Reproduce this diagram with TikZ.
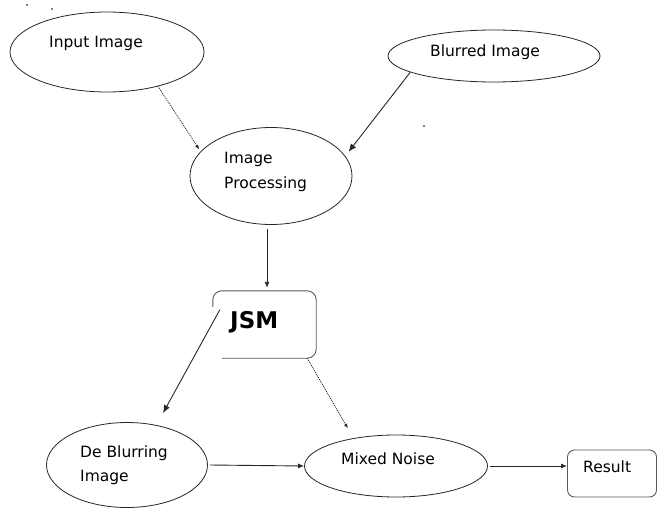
\documentclass[tikz,border=0pt]{standalone}
\usepackage{fontspec}
\setmainfont{DejaVu Sans}
\usetikzlibrary{shapes.geometric,arrows.meta}
\tikzset{
  oval/.style={ellipse,draw=black!85,line width=0.8pt,inner sep=0pt},
  lbl/.style={anchor=base west,inner sep=0pt,font=\fontsize{15.5}{17}\selectfont},
  solidarr/.style={draw=black!85,line width=0.9pt,-{Latex[length=6pt,width=5pt]}},
  bigarr/.style={draw=black!85,line width=0.9pt,-{Latex[length=8pt,width=6.5pt]}},
  dotarr/.style={draw=black!85,line width=0.8pt,dash pattern=on 1pt off 1pt,-{Latex[length=5pt,width=3.5pt]}},
  boxline/.style={draw=black!65,line width=0.9pt,rounded corners=9pt},
  speck/.style={fill=black,circle,inner sep=0pt,minimum size=1.6pt}
}
\begin{document}
\begin{tikzpicture}[x=1pt,y=-1pt]
\useasboundingbox (0,0) rectangle (658,508);
% specks
\node[speck] (s1) at (27,5) {};
\node[speck] (s2) at (52,9) {};
\node[speck] (s3) at (424,126) {};
% ellipses
\node[oval,minimum width=194pt,minimum height=80pt] (inp) at (107,52) {};
\node[oval,minimum width=212pt,minimum height=52pt] (blr) at (494,56) {};
\node[oval,minimum width=162pt,minimum height=97pt] (ip) at (271,176) {};
\node[oval,minimum width=161pt,minimum height=85pt] (db) at (127,465) {};
\node[oval,minimum width=183pt,minimum height=62pt] (mn) at (396,466) {};
% labels
\node[lbl] (tinp) at (49,48) {Input Image};
\node[lbl] (tblr) at (430,57) {Blurred Image};
\node[lbl] (tip1) at (224,163) {Image};
\node[lbl] (tip2) at (224,188) {Processing};
\node[lbl] (tdb1) at (80,457) {De Blurring};
\node[lbl] (tdb2) at (80,481) {Image};
\node[lbl] (tmn) at (341,464) {Mixed Noise};
% JSM box (partial outline as in reference)
\node[minimum width=103pt,minimum height=67pt,inner sep=0pt] (jsm) at (264.5,324.5) {};
\draw[boxline] ([yshift=-16pt]jsm.north west) -- (jsm.north west) -- (jsm.north east) -- (jsm.south east) -- ([xshift=9pt]jsm.south west);
\node[anchor=base west,inner sep=0pt,font=\fontsize{23}{25}\selectfont\bfseries] (tjsm) at (230,328) {JSM};
% Result box
\node[draw=black!65,line width=0.9pt,rounded corners=7pt,minimum width=89pt,minimum height=47pt,inner sep=0pt] (res) at (612,473.5) {};
\node[lbl] (tres) at (583,472) {Result};
% connectors
\draw[dotarr] (inp.-34) -- ([xshift=-2pt,yshift=1pt]ip.160);
\draw[bigarr] (blr.191.7) -- ([xshift=5pt,yshift=2pt]ip.17);
\draw[solidarr] ([xshift=-4pt,yshift=-4pt]ip.south) -- ([xshift=2.5pt,yshift=3pt]jsm.north);
\draw[bigarr] ([xshift=7pt,yshift=-19pt]jsm.north west) -- ([xshift=36pt,yshift=9pt]db.north);
\draw[dotarr] ([xshift=-9pt]jsm.south east) -- ([xshift=-48pt,yshift=6pt]mn.north);
\draw[solidarr] ([xshift=2pt]db.east) -- (mn.west);
\draw[solidarr] ([xshift=2pt]mn.east) -- (mn.east -| res.west);
\end{tikzpicture}
\end{document}
